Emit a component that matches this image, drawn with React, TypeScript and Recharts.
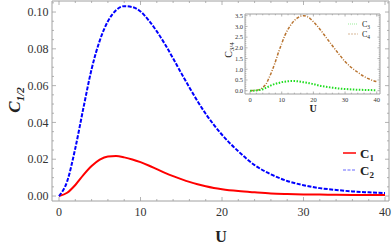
import { LineChart, Line, XAxis, YAxis } from 'recharts'

const U = [0, 1, 2, 3, 4, 5, 6, 7, 8, 9, 10, 11, 12, 13, 14, 15, 16, 17, 18, 19, 20, 22, 24, 26, 28, 30, 32, 34, 36, 38, 40]
const C1 = [0, 0.0018, 0.006, 0.0115, 0.0163, 0.0198, 0.0215, 0.0217, 0.021, 0.0199, 0.0184, 0.0166, 0.0146, 0.0126, 0.0108, 0.0092, 0.0077, 0.0064, 0.0053, 0.0044, 0.0037, 0.0027, 0.002, 0.0014, 0.0011, 0.0009, 0.0008, 0.0007, 0.0006, 0.0005, 0.0005]
const C2 = [0, 0.008, 0.026, 0.048, 0.069, 0.0845, 0.095, 0.101, 0.1032, 0.1027, 0.1003, 0.0955, 0.0895, 0.0825, 0.0748, 0.0668, 0.059, 0.0515, 0.0447, 0.0387, 0.0333, 0.0243, 0.0168, 0.0118, 0.0082, 0.0059, 0.0043, 0.0033, 0.0025, 0.002, 0.0016]
const C3 = [0, 0.005, 0.02, 0.05, 0.15, 0.3, 0.6, 0.95, 1.35, 1.8, 2.2, 2.58, 2.87, 3.1, 3.27, 3.4, 3.48, 3.5, 3.46, 3.36, 3.22, 2.88, 2.49, 2.1, 1.72, 1.36, 1.08, 0.86, 0.66, 0.52, 0.42]
const C4 = [0, 0.002, 0.01, 0.03, 0.07, 0.13, 0.2, 0.27, 0.32, 0.36, 0.4, 0.42, 0.44, 0.45, 0.45, 0.44, 0.42, 0.39, 0.37, 0.34, 0.31, 0.23, 0.18, 0.14, 0.1, 0.08, 0.06, 0.045, 0.035, 0.027, 0.02]

const xTicks = [0, 2, 4, 6, 8, 10, 12, 14, 16, 18, 20, 22, 24, 26, 28, 30, 32, 34, 36, 38, 40]
const mainYTicks = [0, 0.005, 0.01, 0.015, 0.02, 0.025, 0.03, 0.035, 0.04, 0.045, 0.05, 0.055, 0.06, 0.065, 0.07, 0.075, 0.08, 0.085, 0.09, 0.095, 0.1, 0.105]
const insetYTicks = [0, 0.1, 0.2, 0.3, 0.4, 0.5, 0.6, 0.7, 0.8, 0.9, 1, 1.1, 1.2, 1.3, 1.4, 1.5, 1.6, 1.7, 1.8, 1.9, 2, 2.1, 2.2, 2.3, 2.4, 2.5, 2.6, 2.7, 2.8, 2.9, 3, 3.1, 3.2, 3.3, 3.4, 3.5]

const data = U.map((u, i) => ({ u, c1: C1[i], c2: C2[i], c3: C3[i], c4: C4[i] }))

const FONT = '"Liberation Serif", "Times New Roman", serif'
const FRAME = '#a0a0a0'

const isMajor = (v: number, step: number) => Math.abs(v / step - Math.round(v / step)) < 1e-6

// draws an inward frame tick, plus the label on the labelled sides
function FrameTick(props: any) {
  const { x, y, payload, side, step, digits, fs, big, small, labelled } = props
  const v = payload.value
  const major = isMajor(v, step)
  const len = major ? big : small
  let line = null
  let label = null
  if (side === 'bottom') {
    line = <line x1={x} x2={x} y1={y} y2={y - len} stroke={FRAME} strokeWidth={0.8} />
    if (labelled && major) label = <text x={x} y={y + fs * 0.5} dy="0.71em" textAnchor="middle" fontSize={fs} fontFamily={FONT} fill="#333">{v.toFixed(digits)}</text>
  } else if (side === 'top') {
    line = <line x1={x} x2={x} y1={y} y2={y + len} stroke={FRAME} strokeWidth={0.8} />
  } else if (side === 'left') {
    line = <line x1={x} x2={x + len} y1={y} y2={y} stroke={FRAME} strokeWidth={0.8} />
    if (labelled && major) label = <text x={x - fs * 0.3} y={y} dy="0.35em" textAnchor="end" fontSize={fs} fontFamily={FONT} fill="#333">{v.toFixed(digits)}</text>
  } else {
    line = <line x1={x} x2={x - len} y1={y} y2={y} stroke={FRAME} strokeWidth={0.8} />
  }
  return <g>{line}{label}</g>
}

export default function App() {
  return (
    <div style={{ position: 'absolute', left: 0, top: 0, width: 392, height: 245, background: '#fff' }}>
      <LineChart width={392} height={245} data={data} margin={{ top: 0, right: 2, bottom: 0, left: 0 }}>
        <XAxis dataKey="u" type="number" domain={[-0.86, 40.49]} allowDataOverflow ticks={xTicks} interval={0}
          height={44} tickSize={0} tickMargin={0} stroke={FRAME}
          tick={(p: any) => <FrameTick {...p} side="bottom" step={10} digits={0} fs={12} big={4} small={2} labelled />} />
        <XAxis xAxisId="top" dataKey="u" type="number" orientation="top" domain={[-0.86, 40.49]} allowDataOverflow ticks={xTicks} interval={0}
          height={1} tickSize={0} tickMargin={0} stroke={FRAME}
          tick={(p: any) => <FrameTick {...p} side="top" step={10} big={4} small={2} />} />
        <YAxis type="number" domain={[-0.0027, 0.106]} allowDataOverflow ticks={mainYTicks} interval={0}
          width={52} tickSize={0} tickMargin={0} stroke={FRAME}
          tick={(p: any) => <FrameTick {...p} side="left" step={0.02} digits={2} fs={12} big={4} small={2} labelled />} />
        <YAxis yAxisId="right" orientation="right" type="number" domain={[-0.0027, 0.106]} allowDataOverflow ticks={mainYTicks} interval={0}
          width={1} tickSize={0} tickMargin={0} stroke={FRAME}
          tick={(p: any) => <FrameTick {...p} side="right" step={0.02} big={4} small={2} />} />
        {/* C1 sits on the top/right axes so that those frame sides get drawn */}
        <Line xAxisId="top" yAxisId="right" type="monotone" dataKey="c1" stroke="#ff0000" strokeWidth={2} dot={false} isAnimationActive={false} />
        <Line type="monotone" dataKey="c2" stroke="#0000ff" strokeWidth={2} strokeDasharray="4 1.5" dot={false} isAnimationActive={false} />
      </LineChart>

      <div style={{ position: 'absolute', left: 220, top: 0, width: 172, height: 115 }}>
        <LineChart width={172} height={115} data={data} margin={{ top: 13, right: 11, bottom: 0, left: 0 }}>
          <XAxis dataKey="u" type="number" domain={[-1.6, 41.04]} allowDataOverflow ticks={xTicks} interval={0}
            height={21} tickSize={0} tickMargin={0} stroke={FRAME}
            tick={(p: any) => <FrameTick {...p} side="bottom" step={10} digits={0} fs={6.5} big={2.5} small={1.3} labelled />} />
          <XAxis xAxisId="top" dataKey="u" type="number" orientation="top" domain={[-1.6, 41.04]} allowDataOverflow ticks={xTicks} interval={0}
            height={1} tickSize={0} tickMargin={0} stroke={FRAME}
            tick={(p: any) => <FrameTick {...p} side="top" step={10} big={2.5} small={1.3} />} />
          <YAxis type="number" domain={[-0.155, 3.58]} allowDataOverflow ticks={insetYTicks} interval={0}
            width={25} tickSize={0} tickMargin={0} stroke={FRAME}
            tick={(p: any) => <FrameTick {...p} side="left" step={0.5} digits={1} fs={6.5} big={2.5} small={1.3} labelled />} />
          <YAxis yAxisId="right" orientation="right" type="number" domain={[-0.155, 3.58]} allowDataOverflow ticks={insetYTicks} interval={0}
            width={1} tickSize={0} tickMargin={0} stroke={FRAME}
            tick={(p: any) => <FrameTick {...p} side="right" step={0.5} big={2.5} small={1.3} />} />
          <Line xAxisId="top" yAxisId="right" type="monotone" dataKey="c3" stroke="#b8732f" strokeWidth={1.5} strokeDasharray="3 1.5 1 1.5" dot={false} isAnimationActive={false} />
          <Line type="monotone" dataKey="c4" stroke="#22dd22" strokeWidth={2} strokeDasharray="1.5 1.5" dot={false} isAnimationActive={false} />
        </LineChart>
      </div>

      <svg width={392} height={245} style={{ position: 'absolute', left: 0, top: 0, pointerEvents: 'none' }}>
        {/* main axis labels */}
        <text transform="translate(19.5,100) rotate(-90)" textAnchor="middle" fontFamily={FONT} fontWeight="bold" fontStyle="italic" fontSize={17} fill="#222">
          C<tspan fontSize={11} dy={4}>1/2</tspan>
        </text>
        <text x={221} y={242} textAnchor="middle" fontFamily={FONT} fontWeight="bold" fontSize={16} fill="#222">U</text>

        {/* main legend */}
        <line x1={343} x2={356} y1={153} y2={153} stroke="#ff0000" strokeWidth={1.5} />
        <text x={360} y={158} fontFamily={FONT} fontWeight="bold" fontSize={13} fill="#222">C<tspan fontSize={9} dy={3}>1</tspan></text>
        <line x1={343} x2={356} y1={170} y2={170} stroke="#9a9aff" strokeWidth={1.5} strokeDasharray="3 1.5" />
        <text x={360} y={175} fontFamily={FONT} fontWeight="bold" fontSize={13} fill="#222">C<tspan fontSize={9} dy={3}>2</tspan></text>

        {/* inset labels */}
        <text transform="translate(231.5,50) rotate(-90)" textAnchor="middle" fontFamily={FONT} fontSize={10} fill="#222">
          C<tspan fontSize={7} dy={2}>3/4</tspan>
        </text>
        <text x={313} y={112} textAnchor="middle" fontFamily={FONT} fontWeight="bold" fontSize={10} fill="#222">U</text>

        {/* inset legend */}
        <line x1={348} x2={358} y1={24} y2={24} stroke="#99ee99" strokeWidth={1.2} strokeDasharray="1 1" />
        <text x={362} y={27} fontFamily={FONT} fontSize={8} fill="#222">C<tspan fontSize={5.5} dy={1.5}>3</tspan></text>
        <line x1={348} x2={358} y1={34} y2={34} stroke="#d8b898" strokeWidth={1.2} strokeDasharray="2 1" />
        <text x={362} y={37} fontFamily={FONT} fontSize={8} fill="#222">C<tspan fontSize={5.5} dy={1.5}>4</tspan></text>
      </svg>
    </div>
  )
}
